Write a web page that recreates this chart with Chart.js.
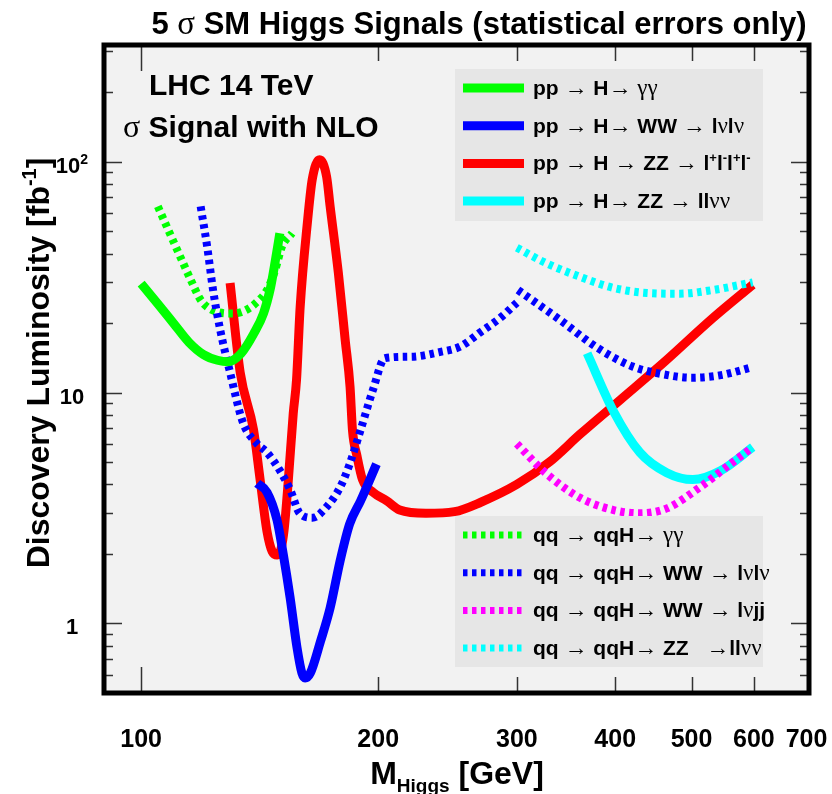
<!DOCTYPE html>
<html>
<head>
<meta charset="utf-8">
<script src="https://cdn.jsdelivr.net/npm/chart.js@4.4.1/dist/chart.umd.min.js"></script>
<style>
  html, body { margin: 0; padding: 0; background: #fff; }
  canvas { display: block; }
</style>
</head>
<body>
<canvas id="chart" width="832" height="794"></canvas>
<script>
// Higgs mass [GeV] and 5 sigma discovery luminosity [fb^-1]
const ggGammaMass = [100, 105, 110, 115, 120, 125, 129, 134, 139, 143, 146, 148, 150];
const ggGammaLumi = [29.6, 24.2, 19.9, 16.5, 14.6, 13.8, 13.6, 14.8, 18, 22, 28.5, 37, 49];

const ggWWMass = [140.4, 144.5, 148.8, 151.5, 154.6, 157.7, 160, 161.5, 164, 169, 173.8, 179, 184, 190, 199];
const ggWWLumi = [4.04, 3.7, 2.8, 2.0, 1.29, 0.79, 0.61, 0.58, 0.61, 0.84, 1.17, 1.88, 2.7, 3.4, 4.9];

const ggZZ4lMass = [129.7, 133.6, 138.9, 141.6, 144.5, 146.7, 148.8, 150.5, 152, 153.8, 156, 157.5,
  159.2, 162.6, 164.9, 168.5, 172, 173.8, 178, 181.6, 184.2, 185.5, 188, 191, 197, 205, 213, 230, 250, 270,
  300, 330, 361, 406, 460, 532, 598];
const ggZZ4lLumi = [29.8, 12.2, 6.9, 4.2, 2.5, 2.05, 1.98, 2.1, 2.6, 4.2, 8.1, 11.3,
  23.5, 54.5, 83.6, 102, 86, 63.8, 33, 16.9, 10.6, 6.9, 5.3, 4.2, 3.7, 3.4, 3.1, 3.0, 3.05, 3.35,
  4.0, 5.0, 6.6, 9.3, 13.4, 21, 29.3];

const ggZZllvvMass = [368.5, 398, 430, 465, 502, 545, 598];
const ggZZllvvLumi = [14.8, 8.3, 5.5, 4.5, 4.2, 4.6, 5.8];

const qqGammaMass = [105, 109, 113, 116, 119, 123, 131, 136, 140, 144.5, 148, 151, 155.5];
const qqGammaLumi = [64, 48, 36.5, 30, 25.2, 22.8, 22, 22.8, 24.5, 27.8, 34, 43, 49];

const qqWWlvlvMass = [119, 121.3, 123.4, 126, 129.7, 134.7, 140.4, 144.5, 150, 154.6, 159, 165, 172, 179,
  184, 190, 197, 204, 220, 240, 254, 270, 286, 300];
const qqWWlvlvLumi = [64, 42.8, 27.8, 18.7, 12.2, 7.4, 6.0, 5.5, 4.6, 3.8, 3.0, 2.87, 3.2, 3.9,
  4.9, 6.9, 10.3, 14.1, 14.3, 15, 15.8, 18.3, 21.1, 24.5];
const qqWWlvlvHighMass = [301, 340, 380, 420, 460, 500, 545, 598];
const qqWWlvlvHighLumi = [27.8, 20.7, 15.6, 13.0, 12.0, 11.6, 11.9, 12.9];

const qqWWlvjjMass = [300, 326, 361, 398, 430, 465, 513, 560, 598];
const qqWWlvjjLumi = [6.0, 4.5, 3.5, 3.1, 3.0, 3.15, 3.9, 4.9, 5.8];

const qqZZllvvMass = [300, 326, 361, 398, 439, 483, 532, 598];
const qqZZllvvLumi = [42.4, 36.5, 31.7, 28.4, 27, 26.8, 27.8, 30];

const xTickValues = [100, 200, 300, 400, 500, 600, 700];
const xTickMarks = [100, 200, 300, 400, 500, 600];
const yTickValues = [1, 10, 100];

// legend texts ('^' marks a superscript character)
const ggLabels = ['pp → H→ γγ', 'pp → H→ WW → lνlν', 'pp → H → ZZ → l^+l^-l^+l^-', 'pp → H→ ZZ → llνν'];
const qqLabels = ['qq → qqH→ γγ', 'qq → qqH→ WW → lνlν', 'qq → qqH→ WW → lνjj', 'qq → qqH→ ZZ   →llνν'];

const GREEN = '#00ff00', BLUE = '#0000ff', RED = '#ff0000', CYAN = '#00ffff', MAGENTA = '#ff00ff';
const ggColors = [GREEN, BLUE, RED, CYAN];
const qqColors = [GREEN, BLUE, MAGENTA, CYAN];

const SANS = '"Liberation Sans", Arial, Helvetica, sans-serif';
const GREEK = '"Liberation Serif", "DejaVu Serif", serif';

function pts(mass, lumi) {
  return mass.map((m, i) => ({ x: m, y: lumi[i] }));
}

function curve(mass, lumi, color, dashed, order) {
  return {
    data: pts(mass, lumi),
    borderColor: color,
    borderWidth: dashed ? 8 : 9,
    borderDash: dashed ? [4.5, 4.5] : [],
    borderCapStyle: 'butt',
    borderJoinStyle: 'round',
    pointRadius: 0,
    cubicInterpolationMode: 'monotone',
    fill: false,
    order: order || 0,
  };
}

function fontFor(ch, size, sup) {
  if (ch === '→') return `normal ${Math.round(size * 1.1)}px ${GREEK}`;
  if (/[γνσ]/.test(ch)) return `normal ${Math.round(size * 1.08)}px ${GREEK}`;
  return `bold ${sup ? Math.round(size * 0.62) : size}px ${SANS}`;
}

// split text into runs of one font; '^x' raises x
function runs(text, size) {
  const out = [];
  let sup = false;
  for (const ch of text) {
    if (ch === '^') { sup = true; continue; }
    const f = fontFor(ch, size, sup);
    const dy = sup ? -size * 0.4 : 0;
    const last = out[out.length - 1];
    if (last && last.f === f && last.dy === dy) last.t += ch;
    else out.push({ t: ch, f, dy });
    sup = false;
  }
  return out;
}

function drawRuns(ctx, rs, x, y, align) {
  let total = 0;
  rs.forEach(r => {
    ctx.font = r.f;
    r.width = ctx.measureText(r.t).width;
    total += r.width;
  });
  let cx = x;
  if (align === 'center') cx = x - total / 2;
  if (align === 'right') cx = x - total;
  ctx.textAlign = 'left';
  ctx.textBaseline = 'alphabetic';
  rs.forEach(r => {
    ctx.font = r.f;
    ctx.fillText(r.t, cx, y + r.dy);
    cx += r.width;
  });
  return total;
}

function drawText(ctx, text, x, y, size, align) {
  return drawRuns(ctx, runs(text, size), x, y, align);
}

function drawLegend(ctx, box, labels, colors, dashed) {
  ctx.fillStyle = '#e6e6e6';
  ctx.fillRect(box.x, box.y, box.w, box.h);
  labels.forEach((label, i) => {
    const y = box.y + 19 + i * 37.7;
    ctx.save();
    ctx.strokeStyle = colors[i];
    ctx.lineWidth = dashed ? 7 : 9;
    ctx.setLineDash(dashed ? [4.5, 4.5] : []);
    ctx.beginPath();
    ctx.moveTo(box.x + 8, y);
    ctx.lineTo(box.x + 69, y);
    ctx.stroke();
    ctx.restore();
    ctx.fillStyle = '#000';
    drawText(ctx, label, box.x + 78, y + 7, 21, 'left');
  });
}

const decor = {
  id: 'decor',
  beforeDatasetsDraw(chart) {
    const { ctx, chartArea: a } = chart;
    ctx.save();
    ctx.fillStyle = '#f2f2f2';
    ctx.fillRect(a.left, a.top, a.right - a.left, a.bottom - a.top);
    ctx.restore();
  },
  afterDatasetsDraw(chart) {
    const { ctx, chartArea: a, scales } = chart;
    const xs = scales.x, ys = scales.y;
    ctx.save();

    // tick marks, pointing inwards
    ctx.strokeStyle = '#333';
    ctx.lineWidth = 1.5;
    ctx.beginPath();
    [0.1, 1, 10, 100].forEach(dec => {
      for (let k = 1; k <= 9; k++) {
        const v = k * dec;
        if (v <= ys.min || v >= ys.max) continue;
        const py = Math.round(ys.getPixelForValue(v)) + 0.5;
        const len = k === 1 ? 18 : 9;
        ctx.moveTo(a.left, py); ctx.lineTo(a.left + len, py);
        ctx.moveTo(a.right, py); ctx.lineTo(a.right - len, py);
      }
    });
    xTickMarks.forEach(v => {
      const px = Math.round(xs.getPixelForValue(v)) + 0.5;
      const len = v === 100 ? 26 : 16;
      ctx.moveTo(px, a.top); ctx.lineTo(px, a.top + len);
      ctx.moveTo(px, a.bottom); ctx.lineTo(px, a.bottom - len);
    });
    ctx.stroke();

    // legends and inner texts
    drawLegend(ctx, { x: 455, y: 69, w: 308, h: 152 }, ggLabels, ggColors, false);
    drawLegend(ctx, { x: 455, y: 516, w: 308, h: 151 }, qqLabels, qqColors, true);

    ctx.fillStyle = '#000';
    drawText(ctx, 'LHC 14 TeV', 149, 95, 30, 'left');
    drawText(ctx, 'σ Signal with NLO', 123, 137, 30, 'left');

    // frame
    ctx.strokeStyle = '#000';
    ctx.lineWidth = 5;
    ctx.strokeRect(a.left, a.top, a.right - a.left, a.bottom - a.top);

    // axis labels
    xTickValues.forEach(v => {
      drawText(ctx, String(v), xs.getPixelForValue(v), 747, 25, 'center');
    });
    yTickValues.forEach(v => {
      const py = ys.getPixelForValue(v);
      const label = v === 100 ? '10^2' : String(v);
      drawText(ctx, label, 72, py + 11, 22, 'center');
    });

    // titles
    drawText(ctx, '5 σ SM Higgs Signals (statistical errors only)', 479, 34, 31, 'center');

    const mRuns = runs('M', 32).concat(
      [{ t: 'Higgs', f: `bold 19px ${SANS}`, dy: 8 }],
      runs(' [GeV]', 32));
    drawRuns(ctx, mRuns, 457, 784, 'center');

    ctx.translate(49, 363);
    ctx.rotate(-Math.PI / 2);
    drawText(ctx, 'Discovery Luminosity [fb^-^1]', 0, 0, 32, 'center');
    ctx.restore();
  },
};

new Chart(document.getElementById('chart'), {
  type: 'line',
  data: {
    datasets: [
      curve(ggZZ4lMass, ggZZ4lLumi, RED, false, 2),
      curve(qqGammaMass, qqGammaLumi, GREEN, true, 1),
      curve(ggGammaMass, ggGammaLumi, GREEN, false),
      curve(qqWWlvlvMass, qqWWlvlvLumi, BLUE, true),
      curve(qqWWlvlvHighMass, qqWWlvlvHighLumi, BLUE, true),
      curve(ggWWMass, ggWWLumi, BLUE, false),
      curve(qqWWlvjjMass, qqWWlvjjLumi, MAGENTA, true),
      curve(qqZZllvvMass, qqZZllvvLumi, CYAN, true),
      curve(ggZZllvvMass, ggZZllvvLumi, CYAN, false),
    ],
  },
  options: {
    responsive: false,
    animation: false,
    layout: { padding: { left: 104, right: 23, top: 45, bottom: 101 } },
    scales: {
      x: { type: 'logarithmic', min: 89.7, max: 705, display: false },
      y: { type: 'logarithmic', min: 0.5, max: 320, display: false },
    },
    plugins: {
      legend: { display: false },
      tooltip: { enabled: false },
    },
  },
  plugins: [decor],
});
</script>
</body>
</html>
